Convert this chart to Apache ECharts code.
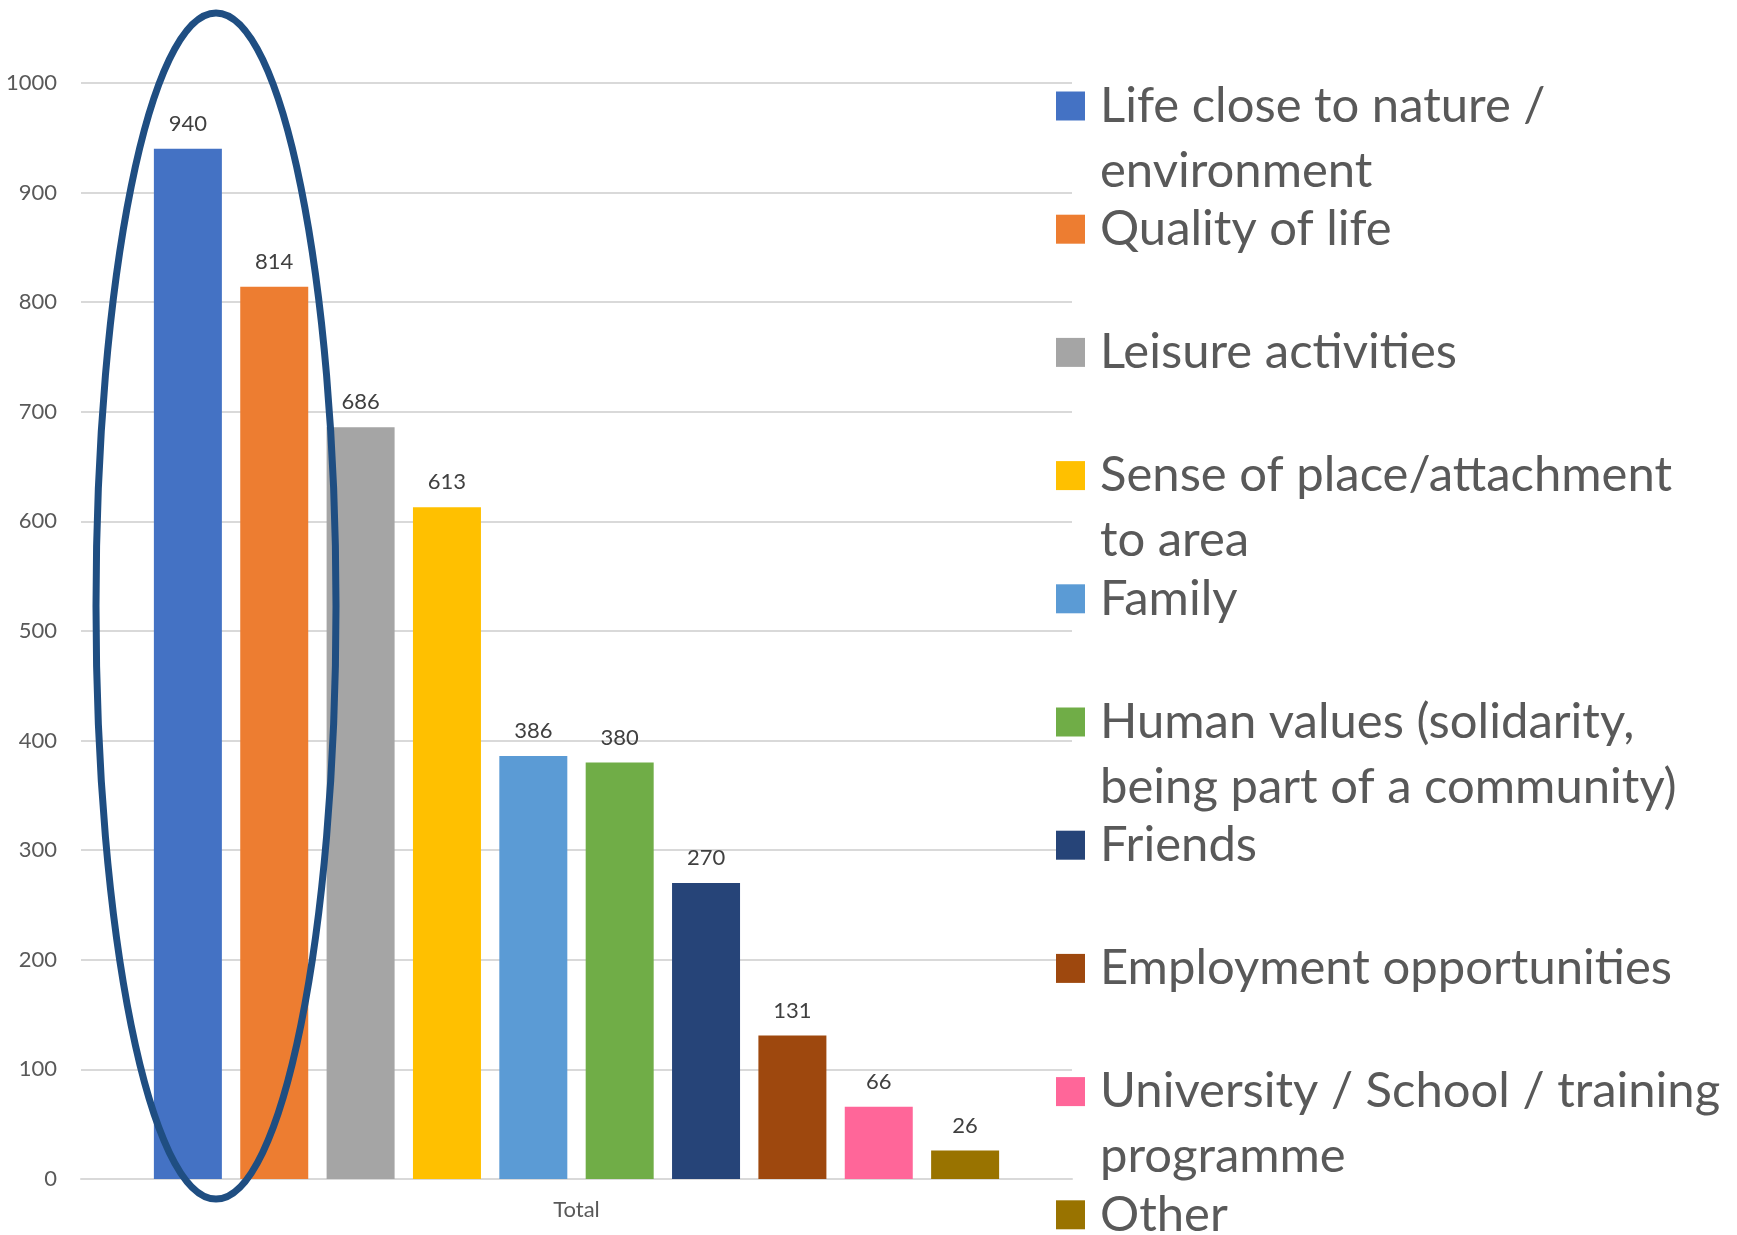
<!DOCTYPE html>
<html>
<head>
<meta charset="utf-8">
<script src="https://cdn.jsdelivr.net/npm/echarts@6/dist/echarts.min.js"></script>
<style>
  html, body { margin: 0; padding: 0; background: #fff; }
  #main { width: 1737px; height: 1235px; }
</style>
</head>
<body>
<div id="main"></div>
<script>
var categories = ['Total'];
var seriesNames = [
  'Life close to nature / environment',
  'Quality of life',
  'Leisure activities',
  'Sense of place/attachment to area',
  'Family',
  'Human values (solidarity, being part of a community)',
  'Friends',
  'Employment opportunities',
  'University / School / training programme',
  'Other'
];
var legendLabels = [
  'Life close to nature /\nenvironment',
  'Quality of life',
  'Leisure activities',
  'Sense of place/attachment\nto area',
  'Family',
  'Human values (solidarity,\nbeing part of a community)',
  'Friends',
  'Employment opportunities',
  'University / School / training\nprogramme',
  'Other'
];
var values = [940, 814, 686, 613, 386, 380, 270, 131, 66, 26];
var colors = ['#4472C4', '#ED7D31', '#A5A5A5', '#FFC000', '#5B9BD5', '#70AD47', '#264478', '#9E480E', '#FF6699', '#997300'];

var chartDom = document.getElementById('main');
var myChart = echarts.init(chartDom, null, { renderer: 'canvas' });

var font = 'Lato, "Open Sans", sans-serif';
var lineH = 65;

let series = [];
let legends = [];
for (let i = 0; i < seriesNames.length; i++) {
  series.push({
    type: 'bar',
    name: seriesNames[i],
    data: [values[i]],
    barWidth: 68,
    barGap: '27%',
    itemStyle: { color: colors[i] },
    label: {
      show: true,
      position: 'top',
      distance: 14,
      fontFamily: font,
      fontSize: 22,
      color: '#404040'
    }
  });
  let wrapped = legendLabels[i].indexOf('\n') >= 0;
  // icon centres evenly spaced like the excel legend, first text line next to the icon
  let iconCenter = 106 + i * 123.2;
  legends.push({
    data: [seriesNames[i]],
    orient: 'vertical',
    left: 1056,
    top: iconCenter - (wrapped ? lineH * 1.5 : lineH / 2),
    padding: 0,
    icon: 'rect',
    itemWidth: 29,
    itemHeight: 29,
    selectedMode: false,
    formatter: function (name) {
      let t = legendLabels[seriesNames.indexOf(name)];
      // blank line on top keeps line one centred on the icon
      return t.indexOf('\n') >= 0 ? ' \n' + t : t;
    },
    textStyle: {
      fontFamily: font,
      fontSize: 49,
      lineHeight: lineH,
      color: '#595959',
      padding: [0, 0, 0, 10]
    }
  });
}

var option = {
  animation: false,
  backgroundColor: '#fff',
  legend: legends,
  grid: {
    left: 81,
    right: 665,
    top: 83,
    bottom: 56,
    containLabel: false
  },
  xAxis: {
    type: 'category',
    data: categories,
    axisTick: { show: false },
    axisLine: { show: true, lineStyle: { color: '#d9d9d9', width: 2 } },
    axisLabel: { fontFamily: font, fontSize: 22, color: '#595959', margin: 20 },
    splitLine: { show: false }
  },
  yAxis: {
    type: 'value',
    min: 0,
    max: 1000,
    interval: 100,
    axisLine: { show: false },
    axisTick: { show: false },
    axisLabel: {
      fontFamily: font,
      fontSize: 22,
      color: '#595959',
      margin: 24,
      formatter: function (v) { return String(v); }
    },
    splitLine: { show: true, lineStyle: { color: '#d9d9d9', width: 2 } }
  },
  graphic: [
    {
      type: 'ellipse',
      shape: { cx: 216, cy: 606, rx: 120, ry: 593 },
      style: { fill: 'none', stroke: '#1f4e82', lineWidth: 7 },
      z: 100
    }
  ],
  series: series
};

option && myChart.setOption(option);
</script>
</body>
</html>
